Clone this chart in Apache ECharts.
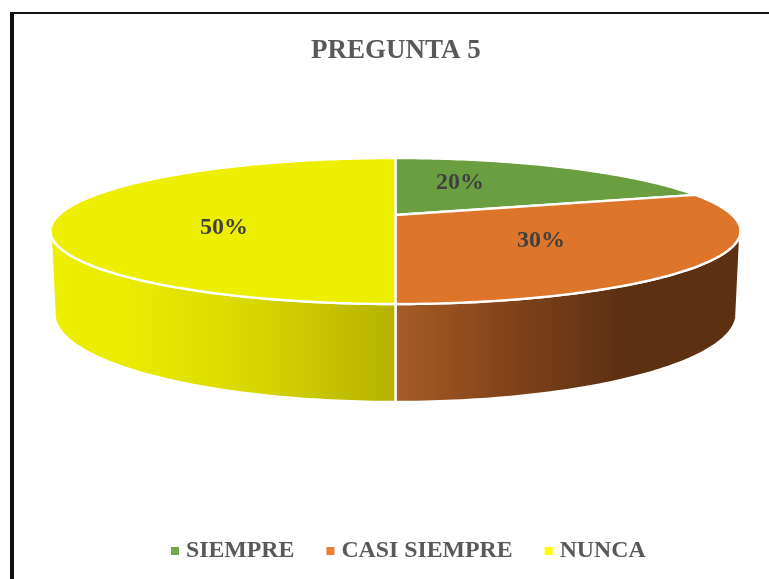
<!DOCTYPE html>
<html><head><meta charset="utf-8">
<style>html,body{margin:0;padding:0;background:#fff}#c{width:769px;height:579px}</style>
<script src="https://cdn.jsdelivr.net/npm/echarts@6/dist/echarts.min.js"></script>
</head><body><div id="c"></div>
<script>
// Data
const categories = ['SIEMPRE', 'CASI SIEMPRE', 'NUNCA'];
const percentages = [20, 30, 50];
const chartTitle = 'PREGUNTA 5';

// Styles
const legendColors = ['#70AD47', '#ED7D31', '#FFFF00'];
const topColors = ['#6A9F41', '#DD752B', '#EEEE00'];
const wallStops = [
  null,
  [[395, '#A85C26'], [500, '#84451C'], [617, '#5E3012'], [741, '#5E3012']],
  [[51, '#EEEE00'], [125, '#EBEB00'], [250, '#D8D800'], [395, '#B5B100']]
];
const labelAt = [[460, 182.5], [541, 241], [224, 228]];

// Perspective disc: top rim and bottom rim of the cylinder
const k = 0.2193;
const cx = 395.5;
const topRim = { a: 336.6, b: 69.5, y0: 215 };
const botRim = { a: 332.7, b: 83.8, y0: 294.7 };
const total = percentages.reduce((s, v) => s + v, 0);

function project(rim, deg, r) {
  const t = deg * Math.PI / 180;
  const u = r * Math.sin(t), v = -r * Math.cos(t), d = 1 - k * v;
  return [cx + rim.a * u / d, rim.y0 + rim.b * v / d];
}
function arc(rim, from, to) {
  const pts = [];
  const n = Math.max(2, Math.ceil(Math.abs(to - from)));
  for (let i = 0; i <= n; i++) pts.push(project(rim, from + (to - from) * i / n, 1));
  return pts;
}
const sideStart = Math.acos(-k) * 180 / Math.PI;
const sideEnd = 360 - sideStart;

function wedgeItem(index, startValue) {
  return function (params, api) {
    const value = api.value(0);
    const a0 = startValue / total * 360;
    const a1 = (startValue + value) / total * 360;
    const children = [];
    const w0 = Math.max(a0, sideStart), w1 = Math.min(a1, sideEnd);
    if (w1 > w0 && wallStops[index]) {
      const st = wallStops[index];
      const x0 = st[0][0], x1 = st[st.length - 1][0];
      children.push({
        type: 'polygon',
        shape: { points: arc(topRim, w0, w1).concat(arc(botRim, w1, w0)) },
        style: {
          fill: {
            type: 'linear', global: true, x: x0, y: 0, x2: x1, y2: 0,
            colorStops: st.map(s => ({ offset: (s[0] - x0) / (x1 - x0), color: s[1] }))
          },
          stroke: '#fff', lineWidth: 2.4, lineJoin: 'round'
        }
      });
    }
    children.push({
      type: 'polygon',
      shape: { points: [[cx, topRim.y0]].concat(arc(topRim, a0, a1)) },
      style: { fill: topColors[index], stroke: '#fff', lineWidth: 2.4, lineJoin: 'round' }
    });
    return { type: 'group', children };
  };
}

let running = 0;
const series = categories.map((name, i) => {
  const start = running;
  running += percentages[i];
  return {
    type: 'custom', name, coordinateSystem: 'none', silent: true,
    itemStyle: { color: legendColors[i] },
    data: [[percentages[i]]],
    renderItem: wedgeItem(i, start),
    z: 2
  };
});

const chart = echarts.init(document.getElementById('c'), null, { renderer: 'canvas' });
chart.setOption({
  backgroundColor: '#fff',
  animation: false,
  title: {
    text: chartTitle, left: 306, top: 33,
    textStyle: { fontFamily: 'Liberation Serif', fontWeight: 'bold', fontSize: 27, color: '#595959' }
  },
  legend: {
    data: categories, left: 166, top: 534, icon: 'rect',
    itemWidth: 8, itemHeight: 8, itemGap: 32, selectedMode: false,
    textStyle: { fontFamily: 'Liberation Serif', fontWeight: 'bold', fontSize: 23.8, color: '#595959', padding: [0, 0, 0, 2] }
  },
  graphic: [
    { type: 'rect', shape: { x: 10, y: 12, width: 4, height: 567 }, style: { fill: '#111' }, silent: true },
    { type: 'rect', shape: { x: 10, y: 12, width: 759, height: 2 }, style: { fill: '#111' }, silent: true }
  ].concat(percentages.map((v, i) => ({
    type: 'text', x: labelAt[i][0], y: labelAt[i][1], z: 10, silent: true,
    style: {
      text: v + '%', align: 'center', verticalAlign: 'middle',
      fontFamily: 'Liberation Serif', fontWeight: 'bold', fontSize: 24, fill: '#404040'
    }
  }))),
  series
});
</script></body></html>
